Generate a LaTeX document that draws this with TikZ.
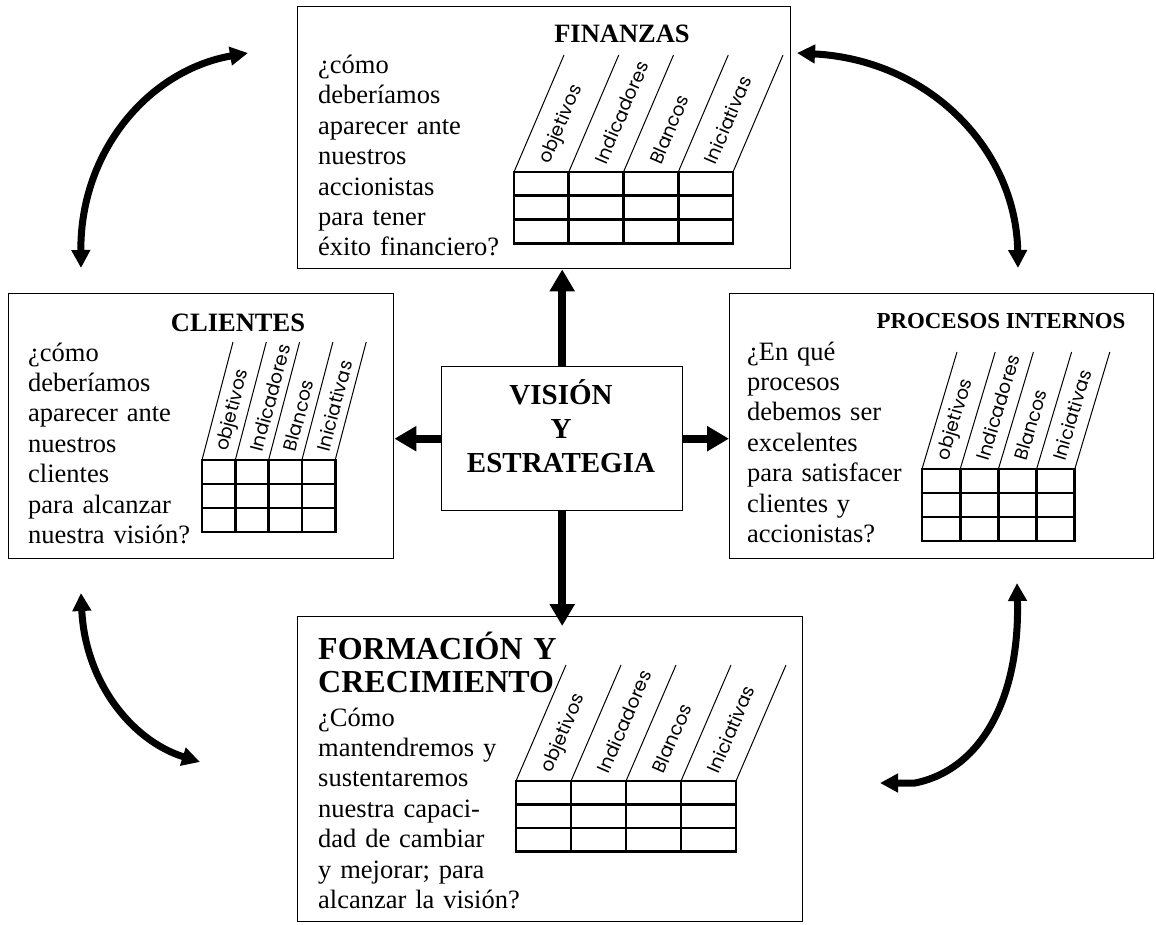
\documentclass[tikz,border=0pt]{standalone}
\usepackage{fontspec}
\setmainfont{Liberation Serif}
\newfontfamily\labelfont{Poppins}
\usetikzlibrary{arrows.meta}

% grid of 4 x 3 cells with slanted header lines and rotated column labels
% #1 prefix, #2 x0, #3 top y, #4 cell width, #5 row height, #6 slant dx, #7 slant dy, #8 label offset
\newcommand\bsctable[8]{%
  \draw[gridline] (#2,#3) rectangle ++({4*#4},{3*#5});
  \foreach \i in {1,2,3} \draw[gridline] ({#2+\i*#4},#3) -- ++(0,{3*#5});
  \foreach \j in {1,2} \draw[gridline] (#2,{#3+\j*#5}) -- ++({4*#4},0);
  \foreach \i in {0,...,4} \draw[slantline] ({#2+\i*#4},#3) -- ++(#6,{-#7});
  \foreach \lab [count=\i from 0] in {objetivos,Indicadores,Blancos,Iniciativas}
    \node[collabel, rotate={atan(#7/#6)}] (#1-\i)
      at ({#2+(\i+#8)*#4+9*#6/#7},{#3-9}) {\lab};
}

\begin{document}
\begin{tikzpicture}[x=1pt,y=-1pt,
  panel/.style={draw, line width=1.4pt, inner sep=0pt, anchor=north west},
  body/.style={inner sep=0pt, anchor=base west, align=left, text width=#1,
    font=\fontsize{26.5}{30.4}\selectfont},
  title/.style={inner sep=0pt, anchor=base, font=\fontsize{26.5}{30}\selectfont\bfseries},
  gridline/.style={line width=2.8pt},
  slantline/.style={line width=1pt},
  collabel/.style={inner sep=0pt, anchor=west, font=\labelfont\fontsize{18.5}{18.5}\selectfont},
  bigarrow/.style={line width=8pt, -{Triangle[length=22pt,width=24pt]}},
  loop/.style={line width=7pt, {Triangle[length=18pt,width=18pt]}-{Triangle[length=18pt,width=18pt]}}
]
\useasboundingbox (0,0) rectangle (1156,924);

% the five panels
\node[panel, minimum width=493pt, minimum height=262pt] (fin) at (297,6) {};
\node[panel, minimum width=385pt, minimum height=265pt] (cli) at (8,293) {};
\node[panel, minimum width=424pt, minimum height=265pt] (pro) at (729,293) {};
\node[panel, minimum width=241pt, minimum height=144pt] (vis) at (441,366) {};
\node[panel, minimum width=505pt, minimum height=305pt] (for) at (297,616) {};

% FINANZAS
\node[title] (fint) at (622,42) {FINANZAS};
\node[body=240pt] (finq) at (318,73.5) {¿cómo\\deberíamos\\aparecer ante\\nuestros\\accionistas\\para tener\\éxito financiero?};
\bsctable{fintab}{514}{172}{54.75}{23.7}{50}{117}{0.5}

% CLIENTES
\node[title] (clit) at (238,331) {CLIENTES};
\node[body=240pt] (cliq) at (28,361) {¿cómo\\deberíamos\\aparecer ante\\nuestros\\clientes\\para alcanzar\\nuestra visión?};
\bsctable{clitab}{202}{460}{33.3}{24}{31}{118}{0.55}

% PROCESOS INTERNOS
\node[title, font=\fontsize{22.9}{26}\selectfont\bfseries] (prot) at (1001,328) {PROCESOS INTERNOS};
\node[body=240pt] (proq) at (747,360) {¿En qué\\procesos\\debemos ser\\excelentes\\para satisfacer\\clientes y\\accionistas?};
\bsctable{protab}{922}{469}{38.2}{24}{35}{117}{0.5}

% VISION Y ESTRATEGIA (base anchor sits on the last line)
\node[inner sep=0pt, align=center, font=\fontsize{29}{34}\selectfont\bfseries, anchor=base]
  (vist) at (561,472.5) {VISIÓN\\Y\\ESTRATEGIA};

% FORMACION Y CRECIMIENTO
\node[body=300pt, font=\fontsize{32}{33}\selectfont\bfseries] (fort) at (318,659) {FORMACIÓN Y\\CRECIMIENTO};
\node[body=240pt] (forq) at (318,726) {¿Cómo\\mantendremos y\\sustentaremos\\nuestra capaci-\\dad de cambiar\\y mejorar; para\\alcanzar la visión?};
\bsctable{fortab}{516}{781}{55}{23.5}{50}{116}{0.5}

% arrows from the centre
\draw[bigarrow] (vis.north) -- (vis.north |- fin.south);
\draw[bigarrow] (vis.south) -- ([yshift=-10pt]vis.south |- for.north);
\draw[bigarrow] (vis.west) -- (vis.west -| cli.east);
\draw[bigarrow] (vis.east) -- (vis.east -| pro.west);

% curved arrows between the panels
\coordinate (tla) at (81,268);
\coordinate (tlb) at (248,53);
\coordinate (tra) at (797,53);
\coordinate (trb) at (1018,268);
\coordinate (bla) at (81,593);
\coordinate (blb) at (200,762);
\coordinate (bra) at (1017,583);
\coordinate (brm) at (915,783);
\coordinate (brb) at (880,783);
\draw[loop] (tla) .. controls (80,150) and (150,70) .. (tlb);
\draw[loop] (tra) .. controls (930,60) and (1016,150) .. (trb);
\draw[loop] (bla) .. controls (85,680) and (130,740) .. (blb);
\draw[loop] (bra) .. controls (1020,700) and (980,770) .. (brm) -- (brb);
\end{tikzpicture}
\end{document}
